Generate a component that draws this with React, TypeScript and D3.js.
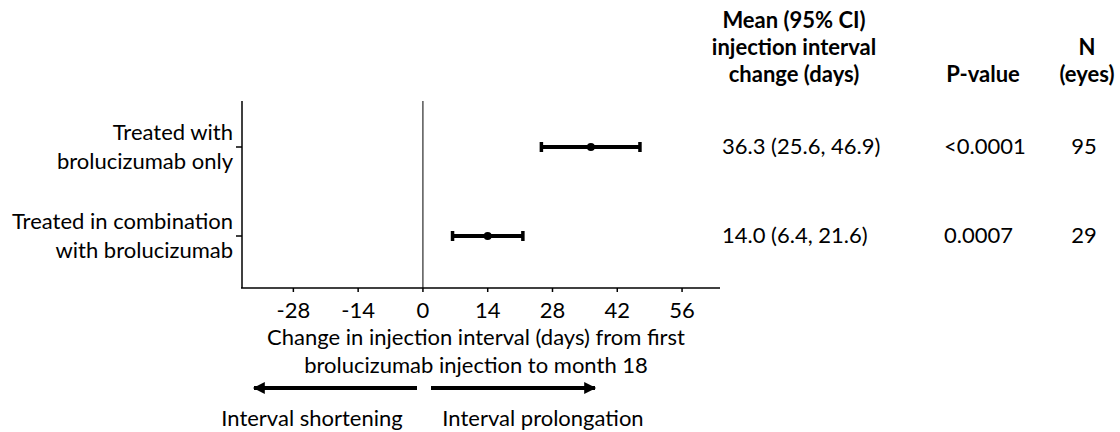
import React from "react";
import * as d3 from "d3";

const groups = ["Treated with|brolucizumab only", "Treated in combination|with brolucizumab"];
const means = [36.3, 14.0];
const lower = [25.6, 6.4];
const upper = [46.9, 21.6];
const ciLabels = ["36.3 (25.6, 46.9)", "14.0 (6.4, 21.6)"];
const pValues = ["<0.0001", "0.0007"];
const nEyes = ["95", "29"];
const xTicks = [-28, -14, 0, 14, 28, 42, 56];

const FONT = "Lato, 'Open Sans', sans-serif";

export default function App() {
  const W = 1120, H = 432;
  const x = d3.scaleLinear().domain([-39.1, 64.2]).range([242, 720]);
  const y = d3.scalePoint<string>().domain(groups).range([147, 236]);
  const axisY = 288;
  const fs = 22;

  return (
    <svg width={W} height={H} style={{ position: "absolute", left: 0, top: 0, background: "#fff" }} fontFamily={FONT}>
      {/* headers */}
      <g fontWeight="bold" fontSize={fs} textAnchor="middle" fill="#000">
        <text x={794} y={28}>Mean (95% CI)</text>
        <text x={794} y={55}>injection interval</text>
        <text x={794} y={82}>change (days)</text>
        <text x={983} y={82}>P-value</text>
        <text x={1087} y={55}>N</text>
        <text x={1087} y={82}>(eyes)</text>
      </g>
      {/* axes */}
      <line x1={242} x2={242} y1={101} y2={axisY} stroke="#000" strokeWidth={1.5} />
      <line x1={241} x2={720} y1={axisY} y2={axisY} stroke="#000" strokeWidth={1.5} />
      <line x1={x(0)} x2={x(0)} y1={101} y2={axisY} stroke="#000" strokeWidth={1} />
      {groups.map((g) => (
        <line key={g} x1={236} x2={242} y1={y(g)} y2={y(g)} stroke="#000" strokeWidth={1.5} />
      ))}
      {xTicks.map((t) => (
        <g key={t}>
          <line x1={x(t)} x2={x(t)} y1={axisY} y2={axisY + 4} stroke="#000" strokeWidth={1.5} />
          <text x={x(t)} y={318} fontSize={fs} textAnchor="middle">{t}</text>
        </g>
      ))}
      {/* group labels */}
      {groups.map((g) => {
        const [a, b] = g.split("|");
        const yy = y(g)!;
        return (
          <g key={g} fontSize={fs} textAnchor="end">
            <text x={233} y={yy - 7}>{a}</text>
            <text x={233} y={yy + 22}>{b}</text>
          </g>
        );
      })}
      {/* error bars */}
      {groups.map((g, i) => {
        const yy = y(g)!;
        return (
          <g key={g}>
            <line x1={x(lower[i])} x2={x(upper[i])} y1={yy} y2={yy} stroke="#000" strokeWidth={4} />
            <line x1={x(lower[i])} x2={x(lower[i])} y1={yy - 5} y2={yy + 5} stroke="#000" strokeWidth={3.5} />
            <line x1={x(upper[i])} x2={x(upper[i])} y1={yy - 5} y2={yy + 5} stroke="#000" strokeWidth={3.5} />
            <circle cx={x(means[i])} cy={yy} r={4} fill="#000" />
            <text x={722} y={yy + 7} fontSize={fs}>{ciLabels[i]}</text>
            <text x={944} y={yy + 7} fontSize={fs}>{pValues[i]}</text>
            <text x={1084} y={yy + 7} fontSize={fs} textAnchor="middle">{nEyes[i]}</text>
          </g>
        );
      })}
      {/* axis title */}
      <g fontSize={fs} textAnchor="middle">
        <text x={476} y={345}>Change in injection interval (days) from first</text>
        <text x={476} y={373}>brolucizumab injection to month 18</text>
      </g>
      {/* arrows */}
      <defs>
        <marker id="ah" viewBox="0 0 10 10" refX={9} refY={5} markerWidth={3.3} markerHeight={3} orient="auto">
          <path d="M0,0 L10,5 L0,10 z" fill="#000" />
        </marker>
      </defs>
      <line x1={417} x2={254} y1={388} y2={388} stroke="#000" strokeWidth={4} markerEnd="url(#ah)" />
      <line x1={431} x2={595} y1={388} y2={388} stroke="#000" strokeWidth={4} markerEnd="url(#ah)" />
      <g fontSize={fs}>
        <text x={312} y={426} textAnchor="middle">Interval shortening</text>
        <text x={543} y={426} textAnchor="middle">Interval prolongation</text>
      </g>
    </svg>
  );
}
